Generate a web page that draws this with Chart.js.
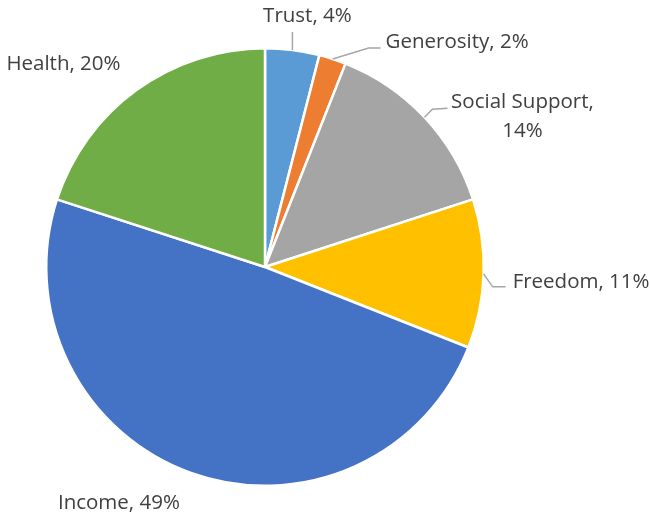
<!DOCTYPE html>
<html>
<head>
<meta charset="utf-8">
<script src="https://cdn.jsdelivr.net/npm/chart.js@4.4.1/dist/chart.umd.min.js"></script>
<style>
	html, body { margin: 0; padding: 0; background: #ffffff; }
	#wrap { width: 650px; height: 513px; }
</style>
</head>
<body>
<div id="wrap"><canvas id="pieChart" width="650" height="513"></canvas></div>
<script>
// Chart data
const categories = ['Trust', 'Generosity', 'Social Support', 'Freedom', 'Income', 'Health'];
const shares = [4, 2, 14, 11, 49, 20];
const sliceColors = ['#5B9BD5', '#ED7D31', '#A5A5A5', '#FFC000', '#4472C4', '#70AD47'];

// Label placement relative to the outer edge point at each slice's mid angle
const labelLayout = [
	{ leader: [[0, -18]], text: [15, -34], align: 'center' },
	{ leader: [[36, -11], [48, -11]], text: [53, -17], align: 'left' },
	{ leader: [[8, -8], [23, -9]], text: [98, -15], align: 'center', split: true },
	{ leader: [[9, 13], [22, 13]], text: [29, 8], align: 'left' },
	{ leader: null, text: [-72, 30], align: 'center' },
	{ leader: null, text: [-73, -26], align: 'center' }
];

const labelFont = '20.5px "Open Sans", sans-serif';
const labelColor = '#404040';
const leaderColor = '#A6A6A6';

const pieLabels = {
	id: 'pieLabels',
	afterDraw(chart) {
		const ctx = chart.ctx;
		const arcs = chart.getDatasetMeta(0).data;
		ctx.save();
		ctx.font = labelFont;
		ctx.fillStyle = labelColor;
		ctx.textBaseline = 'middle';
		arcs.forEach((arc, i) => {
			const { x, y, startAngle, endAngle, outerRadius } = arc.getProps(['x', 'y', 'startAngle', 'endAngle', 'outerRadius'], true);
			const mid = (startAngle + endAngle) / 2;
			const ex = x + outerRadius * Math.cos(mid);
			const ey = y + outerRadius * Math.sin(mid);
			const lay = labelLayout[i];

			if (lay.leader) {
				ctx.beginPath();
				ctx.strokeStyle = leaderColor;
				ctx.lineWidth = 1.5;
				ctx.moveTo(ex, ey);
				lay.leader.forEach(p => ctx.lineTo(ex + p[0], ey + p[1]));
				ctx.stroke();
			}

			ctx.textAlign = lay.align;
			const tx = ex + lay.text[0];
			const ty = ey + lay.text[1];
			if (lay.split) {
				ctx.fillText(categories[i] + ',', tx, ty);
				ctx.fillText(shares[i] + '%', tx, ty + 29);
			} else {
				ctx.fillText(categories[i] + ', ' + shares[i] + '%', tx, ty);
			}
		});
		ctx.restore();
	}
};

new Chart(document.getElementById('pieChart').getContext('2d'), {
	type: 'pie',
	data: {
		labels: categories,
		datasets: [{
			data: shares,
			backgroundColor: sliceColors,
			borderColor: '#ffffff',
			borderWidth: 2.5,
			hoverOffset: 0
		}]
	},
	options: {
		responsive: false,
		devicePixelRatio: 1,
		animation: false,
		layout: {
			padding: { left: 45, right: 165, top: 47, bottom: 26 }
		},
		plugins: {
			legend: { display: false },
			tooltip: { enabled: false }
		}
	},
	plugins: [pieLabels]
});
</script>
</body>
</html>
